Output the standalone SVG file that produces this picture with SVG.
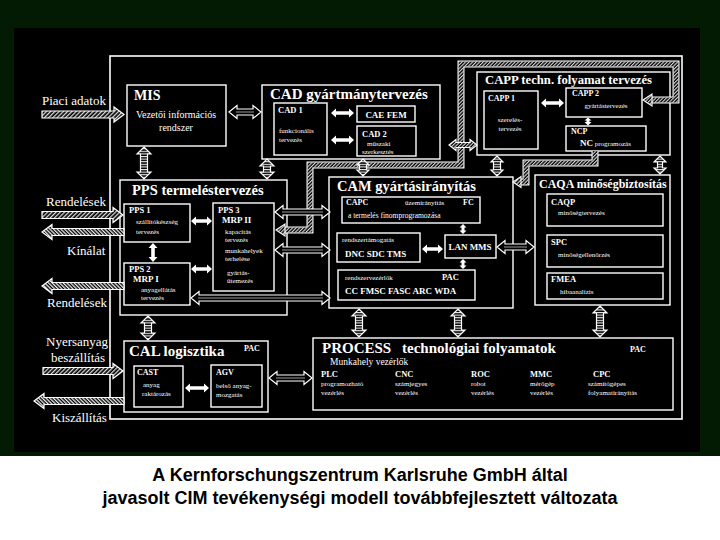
<svg xmlns="http://www.w3.org/2000/svg" width="720" height="540" viewBox="0 0 720 540">
<defs>
<style>
.box{fill:#000;stroke:#fff;stroke-width:1.4}
.frame{fill:none;stroke:#fff;stroke-width:1.6}
text{font-family:'Liberation Serif','Times New Roman',serif;fill:#fff}
.ti{font-weight:bold}
.hd{font-weight:bold;font-size:8.5px}
.sm{font-size:7px}
.lbl{font-size:13px}
.sol{fill:#fff}
.oar{fill:#000;stroke:#fff;stroke-width:1.2}
.cl{stroke:#999;stroke-width:1}
.lad{fill:url(#rung);stroke:#fff;stroke-width:1.2}
.hin{fill:url(#hatchA);stroke:#fff;stroke-width:1.2}
.hout{fill:url(#hatchB);stroke:#fff;stroke-width:1.2}
.hx{fill:url(#hatchS);stroke:#fff;stroke-width:1.1}
.bandO{fill:none;stroke:#fff;stroke-width:7}
.bandI{fill:none;stroke:#000;stroke-width:4.4}
.bandH{fill:none;stroke:url(#hatchS);stroke-width:4.4}
.cap{font-family:'Liberation Sans',Arial,sans-serif;font-weight:bold;font-size:18px;fill:#000;text-anchor:middle}
</style>
<pattern id="hatchA" width="3" height="3" patternUnits="userSpaceOnUse" patternTransform="rotate(45)"><rect width="3" height="3" fill="#000"/><rect width="1.3" height="3" fill="#ddd"/></pattern>
<pattern id="hatchB" width="2.6" height="2.6" patternUnits="userSpaceOnUse" patternTransform="rotate(-45)"><rect width="2.6" height="2.6" fill="#000"/><rect width="1.3" height="2.6" fill="#eee"/></pattern>
<pattern id="hatchS" width="2.5" height="2.5" patternUnits="userSpaceOnUse" patternTransform="rotate(45)"><rect width="2.5" height="2.5" fill="#000"/><rect width="1.1" height="2.5" fill="#ddd"/></pattern>
<pattern id="rung" width="10" height="2.6" patternUnits="userSpaceOnUse"><rect width="10" height="2.6" fill="#000"/><rect width="10" height="1.1" fill="#eee"/></pattern>
</defs>

<rect x="0" y="0" width="720" height="540" fill="#fff"/>
<rect x="0" y="0" width="720" height="456" fill="#031a03"/>
<rect x="14" y="28" width="686" height="424" fill="#000"/>

<rect class="frame" x="110" y="56" width="572" height="363"/>

<g id="labels">
<text class="lbl" x="42" y="105">Piaci adatok</text>
<text class="lbl" x="46" y="206">Rendelések</text>
<text class="lbl" x="67" y="255">Kínálat</text>
<text class="lbl" x="47" y="307">Rendelések</text>
<text class="lbl" x="46" y="346">Nyersanyag</text>
<text class="lbl" x="51" y="362">beszállítás</text>
<text class="lbl" x="52" y="422">Kiszállítás</text>
</g>

<g id="mis">
<rect class="box" x="127" y="85" width="99" height="61"/>
<text class="ti" x="134" y="100" font-size="14">MIS</text>
<text x="176" y="118" font-size="10" text-anchor="middle">Vezetői információs</text>
<text x="176" y="131" font-size="10" text-anchor="middle">rendszer</text>
</g>

<g id="cad">
<rect class="box" x="262" y="85" width="178" height="74"/>
<text class="ti" x="270" y="99" font-size="15">CAD gyártmánytervezés</text>
<rect class="box" x="274" y="103" width="53" height="52"/>
<text class="hd" x="278" y="113">CAD 1</text>
<text class="sm" x="279" y="133">funkcionális</text>
<text class="sm" x="279" y="142">tervezés</text>
<rect class="box" x="357" y="106" width="58" height="16"/>
<text class="ti" x="386" y="118" font-size="9" text-anchor="middle">CAE FEM</text>
<rect class="box" x="357" y="126" width="59" height="30"/>
<text class="hd" x="362" y="137">CAD 2</text>
<text class="sm" x="367" y="146">műszaki</text>
<text class="sm" x="362" y="154">szerkesztés</text>
</g>

<g id="capp">
<rect class="box" x="477" y="72" width="193" height="83"/>
<text class="ti" x="485" y="84" font-size="12.7">CAPP techn. folyamat tervezés</text>
<rect class="box" x="484" y="91" width="54" height="58"/>
<text class="ti" x="488" y="101" font-size="8">CAPP 1</text>
<text class="sm" x="510" y="122" text-anchor="middle">szerelés-</text>
<text class="sm" x="510" y="131" text-anchor="middle">tervezés</text>
<rect class="box" x="566" y="88" width="76" height="29"/>
<text class="ti" x="572" y="96" font-size="8">CAPP 2</text>
<text class="sm" x="606" y="108" text-anchor="middle">gyártástervezés</text>
<rect class="box" x="566" y="126" width="80" height="25"/>
<text class="ti" x="571" y="134" font-size="8">NCP</text>
<text x="580" y="146"><tspan font-weight="bold" font-size="9">NC</tspan><tspan font-size="7"> programozás</tspan></text>
</g>

<g id="pps">
<rect class="box" x="120" y="180" width="167" height="135"/>
<text class="ti" x="132" y="195" font-size="14.5">PPS termeléstervezés</text>
<rect class="box" x="124" y="204" width="66" height="38"/>
<text class="hd" x="129" y="213">PPS 1</text>
<text class="sm" x="136" y="224">szállítókészség</text>
<text class="sm" x="136" y="234">tervezés</text>
<rect class="box" x="124" y="263" width="66" height="42"/>
<text class="hd" x="129" y="272">PPS 2</text>
<text class="ti" x="133" y="282" font-size="9">MRP I</text>
<text class="sm" x="141" y="292">anyagellátás</text>
<text class="sm" x="141" y="300">tervezés</text>
<rect class="box" x="213" y="203" width="61" height="88"/>
<text class="hd" x="218" y="213">PPS 3</text>
<text class="ti" x="222" y="223" font-size="9">MRP II</text>
<text class="sm" x="225" y="234">kapacitás</text>
<text class="sm" x="225" y="242">tervezés</text>
<text class="sm" x="225" y="253">munkahelyek</text>
<text class="sm" x="225" y="261">terhelése</text>
<text class="sm" x="227" y="275">gyártás-</text>
<text class="sm" x="227" y="283">ütemezés</text>
</g>

<g id="cam">
<rect class="box" x="329" y="177" width="184" height="131"/>
<text class="ti" x="337" y="191" font-size="14.5">CAM gyártásirányítás</text>
<rect class="box" x="342" y="197" width="138" height="26"/>
<text class="ti" x="346" y="205" font-size="8">CAPC</text>
<text class="sm" x="405" y="205">üzemirányítás</text>
<text class="ti" x="463" y="205" font-size="8">FC</text>
<text x="348" y="218" font-size="7.5">a termelés finomprogramozása</text>
<rect class="box" x="337" y="233" width="83" height="29"/>
<text class="sm" x="342" y="242">rendszertámogatás</text>
<text class="ti" x="345" y="257" font-size="9">DNC SDC TMS</text>
<rect class="box" x="445" y="235" width="51" height="23"/>
<text class="ti" x="470" y="250" font-size="9" text-anchor="middle">LAN MMS</text>
<rect class="box" x="338" y="270" width="137" height="30"/>
<text class="sm" x="345" y="280">rendszervezérlők</text>
<text class="hd" x="442" y="280">PAC</text>
<text class="ti" x="345" y="294" font-size="9">CC FMSC FASC ARC WDA</text>
</g>

<g id="caqa">
<rect class="box" x="535" y="175" width="135" height="130"/>
<text class="ti" x="539" y="188" font-size="12">CAQA minőségbiztosítás</text>
<rect class="box" x="547" y="194" width="116" height="32"/>
<text class="hd" x="551" y="205">CAQP</text>
<text class="sm" x="558" y="215">minőségtervezés</text>
<rect class="box" x="547" y="235" width="116" height="32"/>
<text class="hd" x="551" y="245">SPC</text>
<text class="sm" x="558" y="257">minőségellenőrzés</text>
<rect class="box" x="547" y="273" width="116" height="26"/>
<text class="hd" x="551" y="282">FMEA</text>
<text class="sm" x="560" y="294">hibaanalízis</text>
</g>

<g id="cal">
<rect class="box" x="124" y="341" width="144" height="71"/>
<text class="ti" x="129" y="356" font-size="15">CAL logisztika</text>
<text class="ti" x="244" y="351" font-size="8">PAC</text>
<rect class="box" x="134" y="366" width="49" height="41"/>
<text class="ti" x="137" y="375" font-size="8">CAST</text>
<text class="sm" x="143" y="387">anyag</text>
<text class="sm" x="142" y="396">raktározás</text>
<rect class="box" x="211" y="365" width="51" height="42"/>
<text class="ti" x="216" y="375" font-size="8">AGV</text>
<text class="sm" x="216" y="388">belső anyag-</text>
<text class="sm" x="216" y="397">mozgatás</text>
</g>

<g id="process">
<rect class="box" x="313" y="338" width="360" height="72"/>
<text class="ti" x="322" y="353" font-size="15">PROCESS</text>
<text class="ti" x="402" y="353" font-size="15">technológiai folyamatok</text>
<text class="ti" x="630" y="352" font-size="8">PAC</text>
<text x="330" y="365" font-size="9.5">Munkahely vezérlők</text>
<text class="hd" x="321" y="377">PLC</text>
<text class="hd" x="395" y="377">CNC</text>
<text class="hd" x="471" y="377">ROC</text>
<text class="hd" x="530" y="377">MMC</text>
<text class="hd" x="593" y="377">CPC</text>
<text class="sm" x="321" y="386">programozható</text>
<text class="sm" x="321" y="395">vezérlés</text>
<text class="sm" x="395" y="386">számjegyes</text>
<text class="sm" x="395" y="395">vezérlés</text>
<text class="sm" x="471" y="386">robot</text>
<text class="sm" x="471" y="395">vezérlés</text>
<text class="sm" x="530" y="386">mérőgép</text>
<text class="sm" x="530" y="395">vezérlés</text>
<text class="sm" x="588" y="386">számítógépes</text>
<text class="sm" x="588" y="395">folyamatirányítás</text>
</g>

<g id="connectors">
<path class="bandO" d="M651 100 L676 100 L676 64 L461 64 L461 165 L310 165 L310 230 L285 230"/>
<path class="bandI" d="M651 100 L676 100 L676 64 L461 64 L461 165 L310 165 L310 230 L285 230"/>
<path class="bandH" d="M651 100 L676 100 L676 64 L461 64 L461 165 L310 165 L310 230 L285 230"/>
<polygon class="hx" points="643,100 652,94 652,106"/>
<polygon class="hx" points="276,230 285,224 285,236"/>
<path class="bandO" d="M595 151 L595 163 L526 163 L526 182 L521 182"/>
<path class="bandI" d="M595 151 L595 163 L526 163 L526 182 L521 182"/>
<path class="bandH" d="M595 151 L595 163 L526 163 L526 182 L521 182"/>
<polygon class="hx" points="513,182 521,176.5 521,187.5"/>
<polygon class="hx" points="449,145 456,139.5 456,142.5 470,142.5 470,139.5 477,145 470,150.5 470,147.5 456,147.5 456,150.5"/>

<polygon class="hin" points="42,111 114,111 114,107 124,114.5 114,122 114,118 42,118"/>
<polygon class="hin" points="42,211.5 113,211.5 113,207.5 123,215 113,222.5 113,218.5 42,218.5"/>
<polygon class="hout" points="124,228.5 52,228.5 52,224.5 42,232 52,239.5 52,235.5 124,235.5"/>
<polygon class="hout" points="124,282.5 52,282.5 52,278.5 42,286 52,293.5 52,289.5 124,289.5"/>
<polygon class="hin" points="43,367.5 113,367.5 113,363.5 123,371 113,378.5 113,374.5 43,374.5"/>
<polygon class="hout" points="124,397.5 44,397.5 44,393.5 34,401 44,408.5 44,404.5 124,404.5"/>

<polygon class="sol" points="331,113 336,108.5 336,111.2 349,111.2 349,108.5 354,113 349,117.5 349,114.8 336,114.8 336,117.5"/>
<polygon class="sol" points="331,140 336,135.5 336,138.2 349,138.2 349,135.5 354,140 349,144.5 349,141.8 336,141.8 336,144.5"/>
<polygon class="sol" points="541,103 546,98.5 546,101.2 559,101.2 559,98.5 564,103 559,107.5 559,104.8 546,104.8 546,107.5"/>
<polygon class="sol" points="191,221 196,216.5 196,219.2 207,219.2 207,216.5 212,221 207,225.5 207,222.8 196,222.8 196,225.5"/>
<polygon class="sol" points="191,269 196,264.5 196,267.2 207,267.2 207,264.5 212,269 207,273.5 207,270.8 196,270.8 196,273.5"/>
<polygon class="sol" points="422,249 427,244.5 427,247.2 438,247.2 438,244.5 443,249 438,253.5 438,250.8 427,250.8 427,253.5"/>
<polygon class="sol" points="185,388 190,383.5 190,386.2 204,386.2 204,383.5 209,388 204,392.5 204,389.8 190,389.8 190,392.5"/>
<polygon class="sol" points="153,243 157.5,248 154.8,248 154.8,257 157.5,257 153,262 148.5,257 151.2,257 151.2,248 148.5,248"/>
<polygon class="sol" points="588,117.5 591.5,120.5 589.5,120.5 589.5,122 591.5,122 588,125.5 584.5,122 586.5,122 586.5,120.5 584.5,120.5"/>
<polygon class="sol" points="463,224 466.5,227.5 464.5,227.5 464.5,230.5 466.5,230.5 463,234 459.5,230.5 461.5,230.5 461.5,227.5 459.5,227.5"/>
<polygon class="sol" points="463,259 466.5,262.5 464.5,262.5 464.5,265.5 466.5,265.5 463,269 459.5,265.5 461.5,265.5 461.5,262.5 459.5,262.5"/>

<polygon class="oar" points="229,112 237,105.5 237,109 253,109 253,105.5 261,112 253,118.5 253,115 237,115 237,118.5"/>
<line class="cl" x1="236" y1="112" x2="254" y2="112"/>
<polygon class="oar" points="275,212 283,205.5 283,209 322,209 322,205.5 330,212 322,218.5 322,215 283,215 283,218.5"/>
<line class="cl" x1="282" y1="212" x2="323" y2="212"/>
<polygon class="oar" points="275,250 283,243.5 283,247 322,247 322,243.5 330,250 322,256.5 322,253 283,253 283,256.5"/>
<line class="cl" x1="282" y1="250" x2="323" y2="250"/>
<polygon class="oar" points="191,298 199,291.5 199,295 322,295 322,291.5 330,298 322,304.5 322,301 199,301 199,304.5"/>
<line class="cl" x1="198" y1="298" x2="323" y2="298"/>
<polygon class="oar" points="497,247 505,240.5 505,244 526,244 526,240.5 534,247 526,253.5 526,250 505,250 505,253.5"/>
<line class="cl" x1="504" y1="247" x2="527" y2="247"/>
<polygon class="oar" points="269,378 277,371.5 277,375 304,375 304,371.5 312,378 304,384.5 304,381 277,381 277,384.5"/>
<line class="cl" x1="276" y1="378" x2="305" y2="378"/>

<polygon class="lad" points="144,147 151,154 147.5,154 147.5,172 151,172 144,179 137,172 140.5,172 140.5,154 137,154"/>
<polygon class="lad" points="267,159 274,166 270.5,166 270.5,172 274,172 267,179 260,172 263.5,172 263.5,166 260,166"/>
<polygon class="lad" points="363,159 369,165 366.5,165 366.5,170 369,170 363,176 357,170 359.5,170 359.5,165 357,165"/>
<polygon class="lad" points="497,156 503,162 500.5,162 500.5,170 503,170 497,176 491,170 493.5,170 493.5,162 491,162"/>
<polygon class="lad" points="660,156 666,162 662.5,162 662.5,168 666,168 660,174 654,168 657.5,168 657.5,162 654,162"/>
<polygon class="lad" points="148,316 155,323 151.5,323 151.5,333 155,333 148,340 141,333 144.5,333 144.5,323 141,323"/>
<polygon class="lad" points="359,309 366,316 362.5,316 362.5,330 366,330 359,337 352,330 355.5,330 355.5,316 352,316"/>
<polygon class="lad" points="458,309 465,316 461.5,316 461.5,330 465,330 458,337 451,330 454.5,330 454.5,316 451,316"/>
<polygon class="lad" points="600,306 607,313 603.5,313 603.5,330 607,330 600,337 593,330 596.5,330 596.5,313 593,313"/>
</g>

<g id="caption">
<text class="cap" x="360" y="481">A Kernforschungszentrum Karlsruhe GmbH által</text>
<text class="cap" x="360" y="504">javasolt CIM tevékenységi modell továbbfejlesztett változata</text>
</g>
</svg>
